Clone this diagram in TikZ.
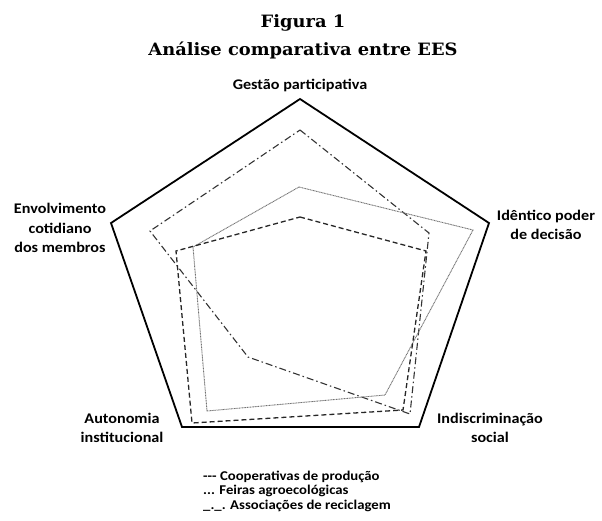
\documentclass[tikz,border=0pt]{standalone}
\usepackage{fontspec}
\setmainfont{Carlito}[FakeStretch=1.1]
\newfontfamily\titlefont{DejaVu Serif}[FakeStretch=1.05]
\usetikzlibrary{positioning}

\tikzset{
  titleLbl/.style={font=\titlefont\bfseries\fontsize{17}{20}\selectfont, anchor=base, inner sep=0pt},
  axisLbl/.style={font=\bfseries\fontsize{14.7}{19.5}\selectfont, align=center, inner sep=0pt},
  legendLbl/.style={font=\bfseries\fontsize{13.4}{14.5}\selectfont, anchor=base west, inner sep=0pt},
  frameLine/.style={line width=1.8pt, line join=miter},
  coopLine/.style={line width=1.3pt, black!85, dash pattern=on 5pt off 3pt},
  feiraLine/.style={line width=0.9pt, black!55, dash pattern=on 1pt off 0.6pt},
  recLine/.style={line width=1.1pt, black!80, dash pattern=on 7pt off 3pt on 1.5pt off 3pt}
}

\begin{document}
\begin{tikzpicture}[x=1pt, y=-1pt]
        \useasboundingbox (0,0) rectangle (602,520);

        % vertices of the frame
        \coordinate (gTop) at (300,99);
        \coordinate (iRight) at (489,223);
        \coordinate (sRight) at (419,427);
        \coordinate (aLeft) at (182,427);
        \coordinate (eLeft) at (111,223);

        \node[titleLbl] (fig) at (303,27) {Figura 1};
        \node[titleLbl] (tit) at (303,55) {Análise comparativa entre EES};

        \node[axisLbl, anchor=base] (gestao) at (300,89) {Gestão participativa};
        \node[axisLbl] (identico) at (546,225) {Idêntico poder\\de decisão};
        \node[axisLbl] (indiscr) at (490,428) {Indiscriminação\\social};
        \node[axisLbl] (autonomia) at (122,428) {Autonomia\\institucional};
        \node[axisLbl] (envolv) at (60,228) {Envolvimento\\cotidiano\\dos membros};

        \draw[frameLine] (gTop) -- (iRight) -- (sRight) -- (aLeft) -- (eLeft) -- cycle;

        % series
        \draw[recLine] (300,130) -- (429,233) -- (410,414) -- (248,357) -- (150,231) -- cycle;
        \draw[feiraLine] (299,187) -- (473,230) -- (385,395) -- (207,411) -- (193,247) -- cycle;
        \draw[coopLine] (300,217) -- (426,251) -- (403,410) -- (192,423) -- (176,251) -- cycle;

        \node[legendLbl] (coop) at (203,480) {-{}-{}- Cooperativas de produção};
        \node[legendLbl] (feira) at (203,494.5) {... Feiras agroecológicas};
        \node[legendLbl] (recicl) at (203,509) {\_.\_. Associações de reciclagem};
      \end{tikzpicture}
\end{document}
